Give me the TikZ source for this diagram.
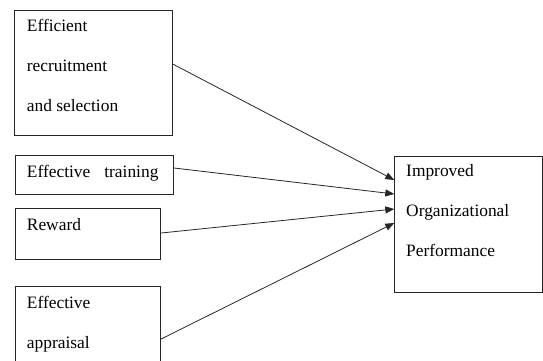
\documentclass[tikz,border=0pt]{standalone}
\usepackage{fontspec}
\setmainfont{Liberation Serif}
\usetikzlibrary{arrows.meta}
\begin{document}
\begin{tikzpicture}[x=1pt,y=-1pt,
  box/.style={draw=black!85, line width=0.8pt, rectangle, inner sep=0pt, anchor=north west},
  txt/.style={anchor=base west, inner sep=0pt, font=\fontsize{17.4}{20}\selectfont},
  arr/.style={draw=black!85, line width=0.8pt, -{Triangle[length=9pt,width=7pt]}}]
\useasboundingbox (0,0) rectangle (543,360);
\clip (0,0) rectangle (543,360);
% boxes
\node[box, minimum width=158pt, minimum height=124.5pt] (b1) at (14.3,10.2) {};
\node[box, minimum width=158.6pt, minimum height=39pt] (b2) at (14.7,155) {};
\node[box, minimum width=145.6pt, minimum height=51pt] (b3) at (14.7,208.3) {};
\node[box, minimum width=145.6pt, minimum height=100pt] (b4) at (14.7,286) {};
\node[box, minimum width=148pt, minimum height=136.6pt] (b5) at (394.3,155.7) {};
% texts
\node[txt] (t1a) at ([xshift=12.4pt,yshift=-20.8pt]b1.north west) {Efficient};
\node[txt] (t1b) at ([xshift=12.4pt,yshift=-60.8pt]b1.north west) {recruitment};
\node[txt] (t1c) at ([xshift=12.4pt,yshift=-100.8pt]b1.north west) {and selection};
\node[txt] (t2) at ([xshift=12pt,yshift=-22.3pt]b2.north west) {Effective\hspace{14pt}training};
\node[txt] (t3) at ([xshift=12pt,yshift=-21.7pt]b3.north west) {Reward};
\node[txt] (t4a) at ([xshift=12pt,yshift=-22.3pt]b4.north west) {Effective};
\node[txt] (t4b) at ([xshift=12pt,yshift=-62.3pt]b4.north west) {appraisal};
\node[txt] (t5a) at ([xshift=11.7pt,yshift=-21pt]b5.north west) {Improved};
\node[txt] (t5b) at ([xshift=11.7pt,yshift=-61pt]b5.north west) {Organizational};
\node[txt] (t5c) at ([xshift=11.7pt,yshift=-101pt]b5.north west) {Performance};
% arrows
\draw[arr] ([yshift=-54pt]b1.north east) -- ([yshift=-24.3pt]b5.north west);
\draw[arr] ([yshift=-13pt]b2.north east) -- ([yshift=-38.3pt]b5.north west);
\draw[arr] ([yshift=-24.7pt]b3.north east) -- ([yshift=-53.3pt]b5.north west);
\draw[arr] ([yshift=-53pt]b4.north east) -- ([yshift=-67.3pt]b5.north west);
\end{tikzpicture}
\end{document}
